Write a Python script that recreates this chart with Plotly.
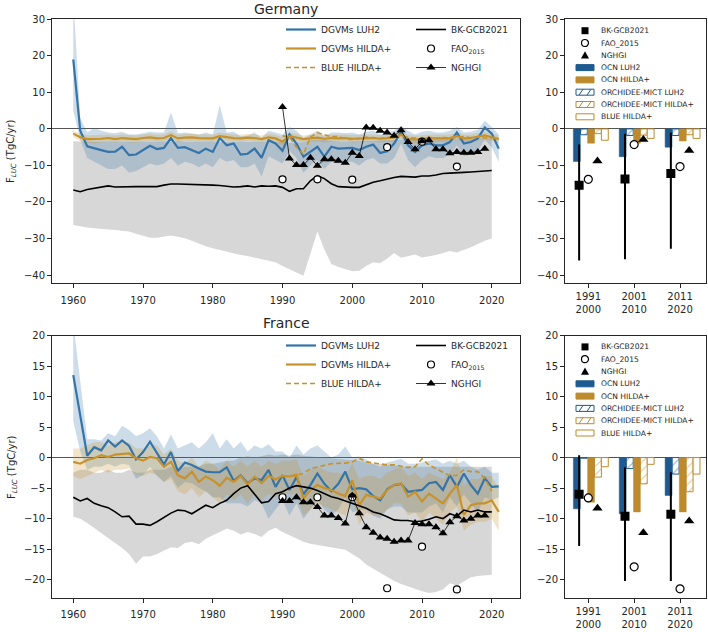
import plotly.graph_objects as go

W, H = 708, 632

# ---------------- data ----------------
years = list(range(1960, 2022))
years_bk = list(range(1960, 2021))
years_nghgi = list(range(1990, 2020))
years_blue = list(range(1990, 2021))
years_fao = [1990, 1995, 2000, 2005, 2010, 2015]
period_labels = ["1991<br>2000", "2001<br>2010", "2011<br>2020"]
period_pos = [0, 1, 2]

# Germany
de_luh2 = [19.0, -0.5, -4.8, -5.2, -5.8, -6.3, -6.2, -4.9, -7.2, -7.0, -5.8, -4.6, -5.5, -5.2, -2.5, -5.2, -5.0, -5.8,
           -6.6, -5.4, -6.3, -2.5, -4.5, -4.0, -7.0, -6.8, -5.4, -7.9, -3.1, -4.0, -6.0, -1.5, -4.0, -7.6, -6.3, -4.9,
           -7.6, -4.9, -5.4, -5.4, -5.2, -5.8, -4.9, -4.3, -6.6, -6.1, -4.0, -0.8, -4.5, -6.3, -4.5, -4.0, -4.5, -4.5,
           -3.6, -1.0, -4.0, -3.6, -2.6, 0.4, -1.3, -5.4]
de_luh2_hi = [36.0, 3.0, -1.0, 0.3, -0.5, -1.0, -1.2, -0.8, -1.5, -1.5, -1.2, -0.8, -1.0, -1.0, 4.5, -1.2, -1.0, -1.2,
              -1.5, -1.0, -1.5, 6.5, -1.0, -0.8, -2.0, -1.8, -1.0, -2.5, -0.5, -1.0, -1.5, 0.5, -0.5, -2.5, -1.5, -0.5,
              -2.0, -1.0, -1.0, -1.2, -1.0, -1.5, -0.8, -0.5, -1.5, -1.2, -0.5, 0.8, -0.5, -1.5, -0.8, -0.5, -1.0, -1.0,
              -0.5, 0.5, -1.0, -0.8, -0.2, 2.2, 0.5, -1.5]
de_luh2_lo = [5.0, -3.0, -8.0, -9.0, -10.0, -11.0, -11.0, -10.0, -12.0, -11.5, -10.5, -9.5, -10.0, -9.5, -8.0, -10.0,
              -9.0, -9.5, -10.5, -9.5, -10.5, -8.0, -9.0, -8.5, -10.5, -10.5, -9.5, -13.0, -7.5, -8.5, -9.5, -6.0, -8.0,
              -12.0, -10.0, -8.5, -11.0, -9.0, -9.5, -9.0, -9.0, -10.0, -8.5, -8.0, -9.5, -9.5, -8.0, -4.0, -8.5, -10.5,
              -8.5, -7.5, -8.0, -8.0, -7.0, -4.5, -7.5, -7.0, -6.0, -3.0, -5.0, -9.0]
de_hilda = [-1.3, -2.3, -2.8, -2.8, -2.7, -2.5, -2.8, -2.5, -2.7, -2.8, -2.5, -2.3, -2.6, -2.5, -1.7, -2.6, -2.4, -2.3,
            -2.5, -2.5, -2.6, -2.0, -2.3, -2.5, -2.6, -2.4, -2.5, -2.8, -2.3, -2.6, -3.5, -2.0, -2.4, -2.8, -2.6, -2.4,
            -2.7, -2.5, -2.6, -2.5, -2.7, -2.6, -2.4, -2.5, -2.7, -2.6, -2.4, -1.6, -2.7, -2.9, -2.6, -2.5, -2.6, -2.6,
            -2.5, -2.0, -2.6, -2.5, -2.2, -1.8, -2.3, -2.8]
de_hilda_hi = [-0.5, -1.3, -1.8, -1.7, -1.7, -1.5, -1.8, -1.5, -1.7, -1.8, -1.5, -1.3, -1.6, -1.5, -0.7, -1.6, -1.4,
               -1.3, -1.5, -1.5, -1.6, -1.0, -1.3, -1.5, -1.6, -1.4, -1.5, -1.8, -1.3, -1.6, -2.3, -1.0, -1.4, -1.8,
               -1.6, -1.4, -1.7, -1.5, -1.6, -1.5, -1.7, -1.6, -1.4, -1.5, -1.7, -1.6, -1.4, -0.6, -1.7, -1.9, -1.6,
               -1.5, -1.6, -1.6, -1.5, -1.0, -1.6, -1.5, -1.2, -0.8, -1.3, -1.8]
de_hilda_lo = [-2.2, -3.3, -3.8, -3.9, -3.7, -3.5, -3.8, -3.5, -3.7, -3.8, -3.5, -3.3, -3.6, -3.5, -2.7, -3.6, -3.4,
               -3.3, -3.5, -3.5, -3.6, -3.0, -3.3, -3.5, -3.6, -3.4, -3.5, -3.8, -3.3, -3.6, -4.6, -3.0, -3.4, -3.8,
               -3.6, -3.4, -3.7, -3.5, -3.6, -3.5, -3.7, -3.6, -3.4, -3.5, -3.7, -3.6, -3.4, -2.6, -3.7, -3.9, -3.6,
               -3.5, -3.6, -3.6, -3.5, -3.0, -3.6, -3.5, -3.2, -2.8, -3.3, -3.8]
de_blue = [-1.9, -2.2, -5.0, -7.0, -2.3, -1.0, -1.6, -2.2, -2.0, -2.8, -2.9, -2.5, -2.3, -2.4, -2.6, -2.4, -2.2, -2.0,
           -2.3, -2.5, -2.8, -2.3, -2.6, -2.4, -2.5, -2.3, -2.1, -2.4, -2.2, -2.5, -2.6]
de_bk = [-16.7, -17.2, -16.6, -16.2, -15.9, -15.6, -15.9, -15.8, -15.7, -15.8, -15.8, -15.7, -15.8, -15.4, -15.1, -15.1,
         -15.2, -15.2, -15.2, -15.3, -15.4, -15.5, -15.7, -15.9, -15.8, -15.6, -15.9, -15.6, -15.7, -15.6, -16.0,
         -17.1, -16.4, -16.4, -14.2, -12.8, -13.6, -15.0, -15.8, -16.0, -16.0, -16.0, -15.2, -14.6, -14.2, -13.7,
         -13.3, -13.0, -13.0, -13.2, -12.9, -12.9, -12.6, -12.2, -12.1, -12.1, -11.9, -11.8, -11.6, -11.4, -11.4]
de_bk_hi = [-3.4, -3.5, -3.6, -3.5, -3.6, -3.5, -3.6, -3.5, -3.6, -3.6, -3.5, -3.5, -3.6, -3.5, -3.4, -3.4, -3.5, -3.5,
            -3.5, -3.5, -3.5, -3.6, -3.6, -3.7, -3.6, -3.5, -3.6, -3.5, -3.5, -3.5, -3.6, -3.8, -3.7, -3.7, -3.2, -2.9,
            -3.0, -3.3, -3.5, -3.5, -3.5, -3.5, -3.4, -3.3, -3.2, -3.1, -3.0, -2.9, -2.9, -3.0, -2.9, -2.9, -2.8, -2.8,
            -2.7, -2.7, -2.7, -2.6, -2.6, -2.6, -2.6]
de_bk_lo = [-26.3, -26.7, -27.0, -27.2, -27.3, -27.5, -27.7, -27.9, -28.1, -28.7, -29.3, -29.8, -29.8, -29.4, -29.2,
            -29.5, -29.9, -30.6, -31.4, -32.1, -32.7, -33.2, -33.7, -34.1, -34.5, -34.8, -35.2, -35.6, -36.0, -36.5,
            -37.5, -38.5, -39.3, -40.2, -34.0, -28.1, -33.0, -37.0, -37.8, -38.5, -39.0, -38.8, -37.5, -36.5, -36.8,
            -35.5, -34.0, -35.3, -34.8, -34.4, -35.2, -34.9, -34.5, -34.0, -33.4, -33.8, -33.2, -32.4, -31.5, -30.6,
            -30.0]
de_nghgi = [6.0, -8.1, -9.9, -9.9, -7.9, -10.1, -8.3, -8.3, -8.7, -9.3, -6.5, -7.4, 0.4, 0.3, -0.5, -1.0, -1.9, -0.4,
            -3.6, -5.6, -3.4, -3.1, -5.6, -5.6, -6.7, -6.3, -6.5, -6.5, -6.3, -5.4]
de_fao = [-13.8, -13.8, -13.9, -5.0, -3.5, -10.3]

# Germany period means (right panel)
de_ocn_luh2 = [-8.9, -7.6, -5.0]
de_orc_luh2 = [-1.6, -1.8, -1.8]
de_ocn_hilda = [-3.9, -3.9, -3.3]
de_orc_hilda = [-1.3, -1.7, -1.6]
de_blue_hilda = [-3.1, -2.6, -2.6]
de_bk_mean = [-15.4, -13.7, -12.2]
de_bk_top = [-4.3, -1.3, -1.0]
de_bk_bot = [-36.0, -35.7, -32.8]
de_fao_mean = [-13.8, -4.3, -10.3]
de_nghgi_mean = [-8.8, -2.9, -5.9]

# France
fr_luh2 = [13.5, 6.8, 0.3, 1.7, 1.2, 2.8, 1.8, 2.8, 1.9, -0.3, 0.9, 2.6, 0.7, -1.1, 0.9, -2.2, -0.8, -1.2, -1.8, -2.3,
           -2.4, -2.4, -1.6, -3.8, -2.9, -4.2, -3.4, -3.7, -2.0, -4.8, -2.9, -5.3, -3.2, -6.0, -4.5, -2.6, -4.3, -5.5,
           -4.3, -2.3, -5.2, -5.0, -5.2, -6.3, -7.0, -5.2, -4.5, -4.3, -5.6, -5.4, -5.3, -4.2, -4.0, -5.3, -2.9, -4.8,
           -2.6, -4.5, -5.9, -3.4, -4.8, -4.7]
fr_luh2_hi = [22.0, 12.0, 3.0, 3.0, 2.8, 4.0, 3.5, 5.2, 4.5, 3.5, 4.0, 4.8, 3.5, 1.5, 3.8, 1.5, 2.0, 2.5, 1.5, 2.5,
              4.0, 1.5, 3.0, 1.5, 2.6, 1.0, 2.0, 1.5, 2.2, 1.0, 1.0, 0.0, 2.0, 0.5, 1.5, 2.0, 1.0, 0.0, 0.5, 1.8, 0.0,
              0.2, -0.3, -1.0, -1.5, -0.8, -0.5, -0.2, -1.0, -1.0, -0.8, -0.5, -0.3, -1.0, -0.5, -1.0, -0.5, -1.5,
              -2.0, -1.5, -2.5, -2.5]
fr_luh2_lo = [6.0, 1.0, -2.0, -1.5, -1.5, -1.0, -1.5, -1.0, -1.2, -3.5, -2.8, -1.5, -3.0, -4.0, -3.0, -5.0, -4.0,
              -4.2, -5.0, -5.5, -6.5, -6.5, -7.5, -7.5, -7.5, -8.0, -7.0, -7.5, -10.0, -8.5, -7.0, -9.5, -7.5, -10.0,
              -8.5, -7.0, -8.5, -9.5, -8.5, -6.5, -9.0, -8.5, -8.5, -9.5, -10.0, -8.5, -8.0, -8.0, -9.0, -9.0, -9.0,
              -8.0, -7.5, -9.0, -6.5, -8.0, -6.0, -7.5, -9.0, -6.5, -7.0, -6.5]
fr_hilda = [-0.7, -1.0, -0.4, -0.1, 0.4, 0.1, 0.5, 0.6, 0.7, -0.1, -0.5, 0.1, -0.1, -1.5, -0.7, -2.9, -3.4, -2.3,
            -4.0, -3.1, -3.7, -4.6, -3.3, -4.0, -3.0, -4.4, -3.1, -4.2, -3.0, -3.6, -3.0, -3.1, -2.8, -6.7, -5.3,
            -4.5, -5.0, -5.3, -5.9, -6.3, -3.7, -7.8, -6.1, -6.4, -6.7, -5.3, -4.5, -4.2, -6.4, -5.6, -7.2, -5.9,
            -6.7, -7.5, -5.9, -4.5, -9.4, -7.8, -7.5, -7.5, -7.0, -8.9]
fr_hilda_hi = [1.5, 1.5, 2.0, 2.5, 2.5, 2.0, 2.5, 2.5, 2.5, 1.5, 1.5, 2.0, 2.0, 0.5, 1.5, -0.5, -1.0, 0.0, -1.5, -0.5,
               -1.0, -2.0, -0.5, -1.5, -0.5, -1.5, -0.5, -1.5, -0.5, -1.0, -0.5, -0.5, -0.3, -3.0, -2.0, -1.5, -2.0,
               -2.5, -2.5, -3.0, -1.0, -3.5, -3.0, -3.0, -3.5, -2.5, -2.0, -1.5, -3.0, -2.5, -3.5, -2.5, -3.0, -3.5,
               -2.5, 0.0, -4.5, -3.5, -3.5, -3.0, -3.0, -5.0]
fr_hilda_lo = [-3.0, -3.5, -3.0, -2.5, -2.0, -2.5, -2.0, -2.0, -1.8, -2.8, -3.0, -2.5, -2.8, -4.0, -3.5, -5.5, -6.0,
               -5.0, -6.5, -5.5, -6.5, -7.5, -6.0, -7.0, -6.0, -7.5, -6.0, -7.0, -6.0, -6.5, -6.0, -6.0, -6.0, -9.5,
               -8.5, -7.5, -8.0, -8.5, -9.0, -9.5, -7.0, -11.0, -9.0, -9.5, -9.5, -8.5, -7.5, -7.5, -9.5, -9.0,
               -10.5, -9.0, -10.0, -11.0, -9.0, -8.0, -12.0, -11.0, -10.5, -10.5, -10.0, -12.0]
fr_blue = [-3.0, -3.1, -2.9, -2.6, -1.8, -1.5, -1.2, -1.0, -0.95, -0.9, -0.7, -0.1, -0.7, -0.9, -1.1, -1.2, -1.2, -1.4,
           -1.6, -1.5, -0.2, -1.2, -1.8, -2.3, -3.0, -2.9, -2.0, -2.3, -2.3, -3.4, -5.5]
fr_bk = [-6.5, -7.1, -6.7, -7.5, -7.9, -8.2, -8.9, -9.7, -9.6, -10.9, -10.9, -11.1, -10.5, -9.8, -9.1, -8.6, -8.7,
         -9.2, -8.5, -7.8, -8.2, -7.5, -7.0, -5.9, -5.0, -4.6, -6.0, -7.4, -7.2, -5.9, -5.6, -5.0, -4.6, -4.8, -5.0,
         -5.4, -5.9, -6.4, -6.7, -7.1, -7.5, -7.8, -8.3, -8.9, -9.2, -9.7, -10.2, -10.3, -10.3, -10.5, -10.4, -10.1,
         -9.7, -10.0, -9.2, -9.6, -8.6, -8.9, -8.6, -8.9, -8.9]
fr_bk_hi = [-2.5, -2.0, -2.0, -2.5, -2.5, -2.0, -2.5, -2.5, -2.0, -2.5, -2.5, -2.0, -2.0, -2.0, -1.5, -2.0, -1.5, -1.5,
            -1.5, -1.0, -1.0, -0.8, -0.5, -0.5, 0.0, 0.2, 0.0, 0.2, 0.5, 0.3, 0.5, 0.3, 0.5, 0.3, 0.2, 0.0, 0.0, -0.2,
            -0.3, -0.3, -0.5, -0.5, -0.8, -1.0, -1.0, -1.2, -1.2, -1.5, -1.5, -1.5, -1.5, -1.5, -1.5, -1.5, -1.5,
            -1.5, -1.5, -1.5, -1.5, -1.5, -1.5]
fr_bk_lo = [-9.7, -10.0, -10.7, -11.5, -12.3, -13.2, -14.0, -14.8, -15.8, -17.4, -16.2, -16.2, -15.8, -15.3, -14.7,
            -14.8, -14.0, -13.8, -14.2, -13.3, -12.8, -12.2, -11.6, -12.0, -12.6, -12.2, -12.5, -13.0, -12.0, -11.5,
            -12.2, -12.7, -13.3, -13.8, -14.1, -14.3, -14.6, -14.8, -15.0, -15.1, -15.8, -16.5, -17.5, -18.2, -18.9,
            -19.5, -20.2, -20.7, -21.1, -21.6, -21.9, -22.2, -22.0, -21.6, -20.6, -21.0, -20.3, -19.6, -19.4, -19.3,
            -19.2]
fr_nghgi = [-7.1, -7.1, -6.5, -7.3, -7.3, -8.1, -9.5, -9.5, -9.9, -10.8, -6.2, -9.1, -11.4, -12.3, -13.1, -13.3, -13.8,
            -13.6, -13.6, -10.7, -10.9, -10.9, -11.4, -12.4, -10.6, -9.6, -10.3, -10.0, -9.5, -9.5]
fr_fao = [-6.5, -6.5, -6.5, -21.4, -14.6, -21.6]

fr_ocn_luh2 = [-8.4, -9.2, -6.2]
fr_orc_luh2 = [-0.1, -1.8, -2.7]
fr_ocn_hilda = [-7.3, -8.9, -8.9]
fr_orc_hilda = [-3.2, -4.3, -5.6]
fr_blue_hilda = [-1.5, -1.1, -2.7]
fr_bk_mean = [-6.0, -9.6, -9.3]
fr_bk_top = [0.4, -1.6, -2.4]
fr_bk_bot = [-14.5, -20.2, -20.2]
fr_fao_mean = [-6.6, -17.9, -21.5]
fr_nghgi_mean = [-8.3, -12.3, -10.4]

bar_legend_labels = ["BK-GCB2021", "FAO_2015", "NGHGI", "OCN LUH2", "OCN HILDA+",
                     "ORCHIDEE-MICT LUH2", "ORCHIDEE-MICT HILDA+", "BLUE HILDA+"]

# ---------------- styles ----------------
FONT = "DejaVu Sans"
C_BLUE = "#3574a8"
C_BROWN = "#c7922c"
C_BAR_BLUE = "#1d5a8f"
C_BAR_GOLD = "#bd8b2d"
F_BLUE = "rgba(53,116,168,0.25)"
F_BROWN = "rgba(199,146,44,0.25)"
F_GREY = "rgba(150,150,150,0.38)"
AX = "#262626"


def px_x(v):
    return v / W


def px_y(v):
    return 1 - v / H


fig = go.Figure()


def band(x, hi, lo, fillcolor, xa, ya):
    fig.add_trace(go.Scatter(x=x, y=hi, mode="lines", line=dict(width=0), showlegend=False,
                             hoverinfo="skip", xaxis=xa, yaxis=ya))
    fig.add_trace(go.Scatter(x=x, y=lo, mode="lines", line=dict(width=0), fill="tonexty",
                             fillcolor=fillcolor, showlegend=False, hoverinfo="skip", xaxis=xa, yaxis=ya))


def left_panel(xa, ya, lg1, lg2, luh2, luh2_hi, luh2_lo, hilda, hilda_hi, hilda_lo, blue, bk, bk_hi, bk_lo,
               nghgi, fao):
    band(years_bk, bk_hi, bk_lo, F_GREY, xa, ya)
    band(years, luh2_hi, luh2_lo, F_BLUE, xa, ya)
    band(years, hilda_hi, hilda_lo, F_BROWN, xa, ya)
    fig.add_trace(go.Scatter(x=years, y=luh2, mode="lines", name="DGVMs LUH2", legend=lg1,
                             line=dict(color=C_BLUE, width=2.2), xaxis=xa, yaxis=ya))
    fig.add_trace(go.Scatter(x=years, y=hilda, mode="lines", name="DGVMs HILDA+", legend=lg1,
                             line=dict(color=C_BROWN, width=2.2), xaxis=xa, yaxis=ya))
    fig.add_trace(go.Scatter(x=years_blue, y=blue, mode="lines", name="BLUE HILDA+", legend=lg1,
                             line=dict(color=C_BROWN, width=1.6, dash="5px,3px"), xaxis=xa, yaxis=ya))
    fig.add_trace(go.Scatter(x=years_bk, y=bk, mode="lines", name="BK-GCB2021", legend=lg2,
                             line=dict(color="black", width=1.6), xaxis=xa, yaxis=ya))
    fig.add_trace(go.Scatter(x=years_fao, y=fao, mode="markers", name="FAO<sub>2015</sub>", legend=lg2,
                             marker=dict(symbol="circle", size=7, color="white",
                                         line=dict(color="black", width=1.2)), xaxis=xa, yaxis=ya))
    fig.add_trace(go.Scatter(x=years_nghgi, y=nghgi, mode="lines+markers", name="NGHGI", legend=lg2,
                             line=dict(color="black", width=0.8),
                             marker=dict(symbol="triangle-up", size=8, color="black"), xaxis=xa, yaxis=ya))


def right_panel(xa, ya, ocn_luh2, orc_luh2, ocn_hilda, orc_hilda, blue_hilda, bk_m, bk_top, bk_bot, fao_m, ngh_m):
    bw = 0.15
    specs = [
        (ocn_luh2, -0.325, C_BAR_BLUE, None),
        (orc_luh2, -0.170, C_BAR_BLUE, "/"),
        (ocn_hilda, -0.015, C_BAR_GOLD, None),
        (orc_hilda, 0.135, C_BAR_GOLD, "/"),
        (blue_hilda, 0.285, C_BAR_GOLD, "empty"),
    ]
    for vals, off, col, hatch in specs:
        if hatch is None:
            marker = dict(color=col, line=dict(color=col, width=0.5))
        elif hatch == "/":
            marker = dict(color="white", line=dict(color=col, width=1),
                          pattern=dict(shape="/", fgcolor=col, bgcolor="white", size=6, solidity=0.18))
        else:
            marker = dict(color="white", line=dict(color=col, width=1))
        fig.add_trace(go.Bar(x=period_pos, y=vals, width=bw, offset=off, marker=marker, showlegend=False,
                             xaxis=xa, yaxis=ya))
    err_up = [t - m for t, m in zip(bk_top, bk_m)]
    err_dn = [m - b for m, b in zip(bk_m, bk_bot)]
    fig.add_trace(go.Scatter(x=[p - 0.2 for p in period_pos], y=bk_m, mode="markers", showlegend=False,
                             marker=dict(symbol="square", size=9, color="black"),
                             error_y=dict(type="data", symmetric=False, array=err_up, arrayminus=err_dn,
                                          color="black", thickness=2, width=0),
                             xaxis=xa, yaxis=ya))
    fig.add_trace(go.Scatter(x=period_pos, y=fao_m, mode="markers", showlegend=False,
                             marker=dict(symbol="circle", size=8, color="white",
                                         line=dict(color="black", width=1.2)), xaxis=xa, yaxis=ya))
    fig.add_trace(go.Scatter(x=[p + 0.2 for p in period_pos], y=ngh_m, mode="markers", showlegend=False,
                             marker=dict(symbol="triangle-up", size=9, color="black"), xaxis=xa, yaxis=ya))


left_panel("x", "y", "legend", "legend2", de_luh2, de_luh2_hi, de_luh2_lo, de_hilda, de_hilda_hi, de_hilda_lo,
           de_blue, de_bk, de_bk_hi, de_bk_lo, de_nghgi, de_fao)
right_panel("x2", "y2", de_ocn_luh2, de_orc_luh2, de_ocn_hilda, de_orc_hilda, de_blue_hilda, de_bk_mean,
            de_bk_top, de_bk_bot, de_fao_mean, de_nghgi_mean)
left_panel("x3", "y3", "legend3", "legend4", fr_luh2, fr_luh2_hi, fr_luh2_lo, fr_hilda, fr_hilda_hi, fr_hilda_lo,
           fr_blue, fr_bk, fr_bk_hi, fr_bk_lo, fr_nghgi, fr_fao)
right_panel("x4", "y4", fr_ocn_luh2, fr_orc_luh2, fr_ocn_hilda, fr_orc_hilda, fr_blue_hilda, fr_bk_mean,
            fr_bk_top, fr_bk_bot, fr_fao_mean, fr_nghgi_mean)

# ---------------- axes ----------------
base = dict(showline=True, mirror=True, linecolor=AX, linewidth=1, ticks="outside", ticklen=4, tickwidth=1,
            tickcolor=AX, showgrid=False, zeroline=False, automargin=False,
            tickfont=dict(family=FONT, size=10, color=AX))
yzero = dict(zeroline=True, zerolinecolor="#555555", zerolinewidth=1)

top_dom = [px_y(282.7), px_y(19.3)]
bot_dom = [px_y(598.3), px_y(335.5)]
left_dom = [px_x(52), px_x(520)]
right_dom = [px_x(565), px_x(705.7)]

fig.update_layout(
    xaxis=dict(base, domain=left_dom, anchor="y", range=[1956.95, 2024.05], tickvals=list(range(1960, 2021, 10)),
               ticklabelstandoff=4),
    yaxis=dict(base, **yzero, domain=top_dom, anchor="x", range=[-42.1, 30], tickvals=list(range(-40, 31, 10))),
    xaxis2=dict(base, domain=right_dom, anchor="y2", range=[-0.508, 2.56], tickvals=period_pos,
                ticktext=period_labels),
    yaxis2=dict(base, **yzero, domain=top_dom, anchor="x2", range=[-42.1, 30], tickvals=list(range(-40, 31, 10))),
    xaxis3=dict(base, domain=left_dom, anchor="y3", range=[1956.95, 2024.05], tickvals=list(range(1960, 2021, 10)),
                ticklabelstandoff=3),
    yaxis3=dict(base, **yzero, domain=bot_dom, anchor="x3", range=[-23.05, 20], tickvals=list(range(-20, 21, 5))),
    xaxis4=dict(base, domain=right_dom, anchor="y4", range=[-0.508, 2.56], tickvals=period_pos,
                ticktext=period_labels),
    yaxis4=dict(base, **yzero, domain=bot_dom, anchor="x4", range=[-23.05, 20], tickvals=list(range(-20, 21, 5))),
)

# ---------------- legends (left panels) ----------------
lg = dict(bgcolor="rgba(0,0,0,0)", borderwidth=0, font=dict(family=FONT, size=9, color=AX), itemwidth=30,
          tracegroupgap=0, xanchor="left", yanchor="top", orientation="v", itemclick=False,
          traceorder="normal")
fig.update_layout(
    legend=dict(lg, x=px_x(281), y=px_y(15)),
    legend2=dict(lg, x=px_x(411), y=px_y(15)),
    legend3=dict(lg, x=px_x(281), y=px_y(331)),
    legend4=dict(lg, x=px_x(411), y=px_y(331)),
)

# ---------------- manual legends (right panels) ----------------
shapes = []
annotations = []


def right_legend(top):
    cx = 585
    for i, label in enumerate(bar_legend_labels):
        r = top + 11.4 + 12.3 * i
        if i == 0:
            shapes.append(dict(type="rect", xref="paper", yref="paper", x0=px_x(cx - 3.5), x1=px_x(cx + 3.5),
                               y0=px_y(r + 3.5), y1=px_y(r - 3.5), fillcolor="black", line=dict(width=0)))
        elif i == 1:
            shapes.append(dict(type="circle", xref="paper", yref="paper", x0=px_x(cx - 3.5), x1=px_x(cx + 3.5),
                               y0=px_y(r + 3.5), y1=px_y(r - 3.5), fillcolor="white",
                               line=dict(color="black", width=1.2)))
        elif i == 2:
            path = "M{},{} L{},{} L{},{} Z".format(px_x(cx), px_y(r - 4), px_x(cx - 4), px_y(r + 3.2),
                                                 px_x(cx + 4), px_y(r + 3.2))
            shapes.append(dict(type="path", xref="paper", yref="paper", path=path, fillcolor="black",
                               line=dict(width=0)))
        else:
            col = C_BAR_BLUE if label in ("OCN LUH2", "ORCHIDEE-MICT LUH2") else C_BAR_GOLD
            solid = label.startswith("OCN")
            shapes.append(dict(type="rect", xref="paper", yref="paper", x0=px_x(576), x1=px_x(594),
                               y0=px_y(r + 3), y1=px_y(r - 3), fillcolor=col if solid else "white",
                               line=dict(color=col, width=1)))
            if label.startswith("ORCHIDEE"):
                for hx in (579, 587):
                    shapes.append(dict(type="line", xref="paper", yref="paper", x0=px_x(hx), x1=px_x(hx + 4),
                                       y0=px_y(r + 3), y1=px_y(r - 3), line=dict(color=col, width=1)))
        annotations.append(dict(xref="paper", yref="paper", x=px_x(599), y=px_y(r), xanchor="left",
                                yanchor="middle", text=label, showarrow=False,
                                font=dict(family=FONT, size=7.6, color=AX)))


right_legend(19.3)
right_legend(335.5)

# titles and axis labels
for title, yc in (("Germany", 9.5), ("France", 323.5)):
    annotations.append(dict(xref="paper", yref="paper", x=px_x(286), y=px_y(yc), text=title, showarrow=False,
                            xanchor="center", yanchor="middle", font=dict(family=FONT, size=14, color=AX)))
for yc in (151, 467):
    annotations.append(dict(xref="paper", yref="paper", x=px_x(12), y=px_y(yc),
                            text="F<sub><i>LUC</i></sub> (TgC/yr)", showarrow=False, textangle=-90,
                            xanchor="center", yanchor="middle", font=dict(family=FONT, size=10, color=AX)))

fig.update_layout(
    width=W, height=H, margin=dict(l=0, r=0, t=0, b=0), autosize=False,
    paper_bgcolor="white", plot_bgcolor="white", barmode="overlay", showlegend=True,
    font=dict(family=FONT, size=10, color=AX),
    shapes=shapes, annotations=annotations,
)

fig.write_html("out.html", config={"displayModeBar": False},
               post_script="document.body.style.margin='0';document.body.style.overflow='hidden';")
